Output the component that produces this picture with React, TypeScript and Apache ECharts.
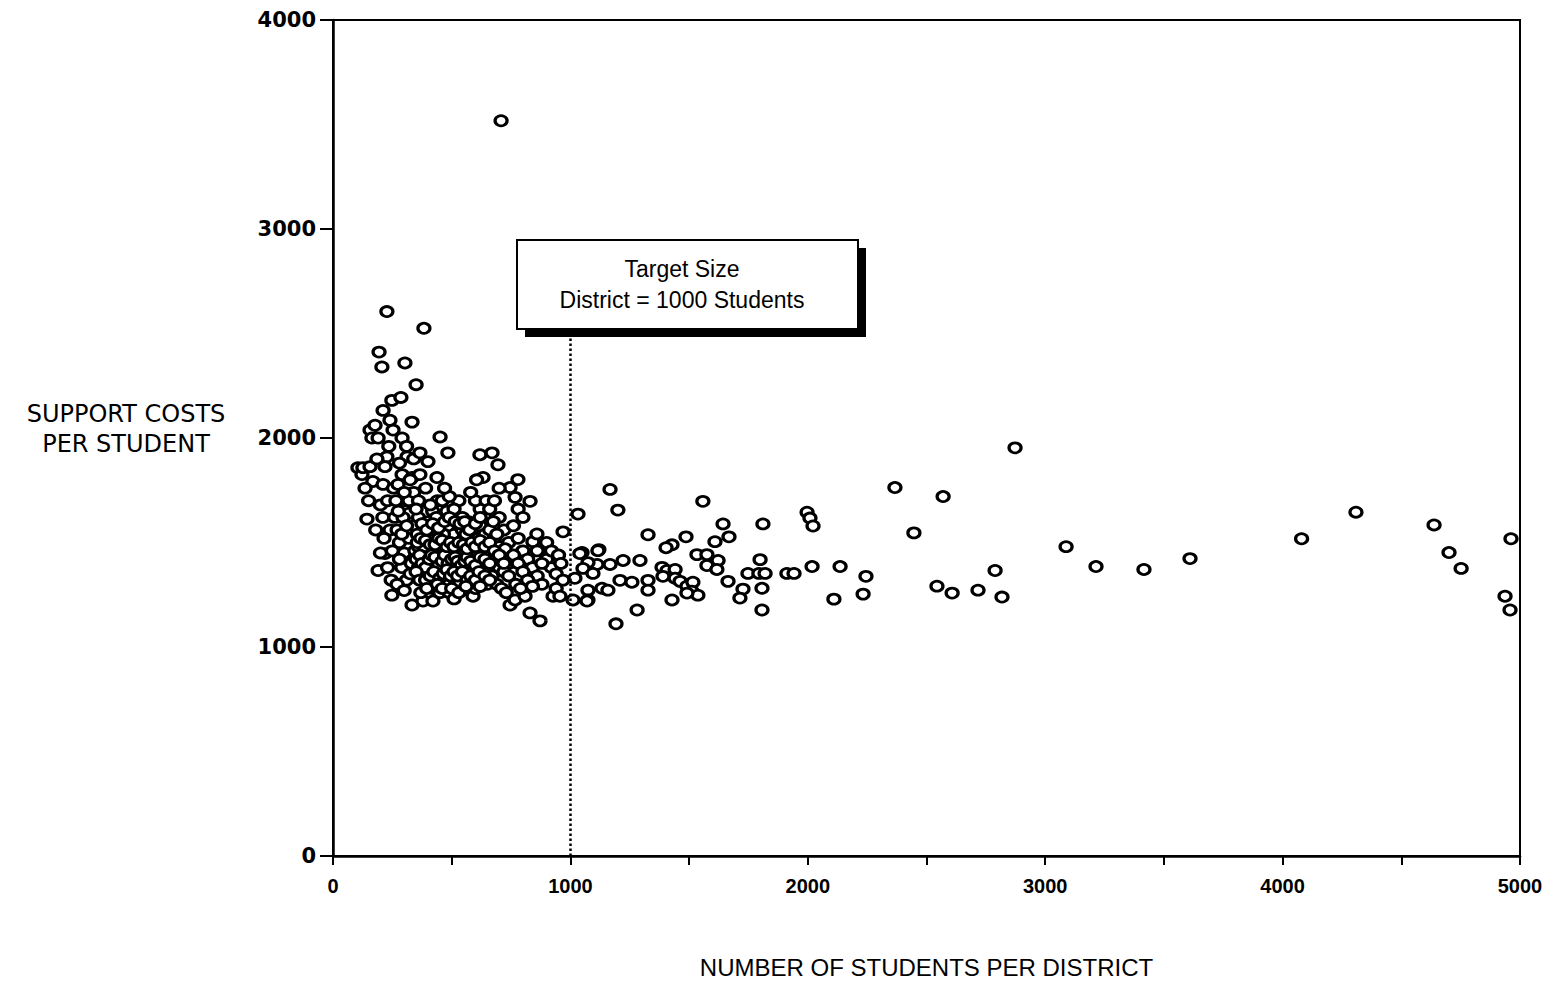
import React, { useEffect, useRef } from "react";
import * as echarts from "echarts";

// Districts under 1000 students: [students, support cost per student]
const smallDistricts: number[][] = [
  [105, 1858], [122, 1825], [126, 1858], [143, 1612], [156, 1863], [156, 2038], [164, 2000], [168, 1792],
  [177, 2061], [150, 1700], [135, 1760],
  [190, 1366], [219, 1447], [211, 1778], [194, 2411], [206, 2340], [211, 2132], [227, 1910], [219, 1863],
  [240, 2085], [248, 2180], [253, 2038], [248, 1248], [200, 1680], [230, 1700], [180, 1560], [210, 1620],
  [240, 1560], [200, 1450], [230, 1380], [245, 1320], [185, 1900], [235, 1960], [215, 1520], [250, 1460],
  [227, 2605], [190, 2000], [260, 1620], [255, 1760],
  [286, 2194], [291, 2000], [291, 1825], [274, 1778], [303, 2359], [312, 1910], [333, 2076], [333, 1811],
  [333, 1201], [350, 2255], [270, 1560], [300, 1700], [320, 1640], [280, 1500], [300, 1450], [320, 1520],
  [340, 1580], [290, 1380], [310, 1320], [330, 1400], [345, 1460], [270, 1300], [300, 1270], [320, 1700],
  [340, 1740], [280, 1880], [310, 1960], [340, 1900], [295, 1620], [325, 1350],
  [366, 1929], [366, 1825], [383, 2525], [400, 1887], [379, 1220], [421, 1220], [438, 1811], [451, 2005],
  [360, 1620], [380, 1560], [400, 1500], [420, 1460], [440, 1420], [360, 1380], [380, 1340], [400, 1300],
  [420, 1280], [440, 1350], [360, 1480], [380, 1420], [400, 1600], [420, 1650], [440, 1700], [360, 1700],
  [390, 1760], [410, 1680], [430, 1560], [450, 1500], [370, 1260], [410, 1380], [430, 1320], [450, 1260],
  [395, 1440], [415, 1540], [435, 1620], [355, 1540], [445, 1460], [425, 1400], [385, 1480], [405, 1560],
  [484, 1929], [460, 1700], [480, 1650], [500, 1600], [520, 1560], [540, 1520], [460, 1580], [480, 1540],
  [500, 1500], [520, 1460], [540, 1420], [470, 1480], [490, 1440], [510, 1400], [530, 1380], [550, 1340],
  [460, 1380], [480, 1340], [500, 1310], [520, 1290], [540, 1270], [470, 1300], [490, 1260], [510, 1230],
  [530, 1700], [510, 1660], [490, 1720], [470, 1760], [545, 1620], [525, 1580], [505, 1540], [485, 1580],
  [465, 1540], [455, 1440], [475, 1420], [495, 1380], [515, 1340], [535, 1310], [555, 1460], [545, 1560],
  [590, 1243], [570, 1600], [590, 1560], [610, 1520], [630, 1480], [650, 1440], [570, 1500], [590, 1460],
  [610, 1420], [630, 1400], [650, 1380], [570, 1400], [590, 1360], [610, 1340], [630, 1320], [650, 1300],
  [580, 1300], [600, 1280], [620, 1660], [600, 1700], [580, 1740], [640, 1620], [560, 1540], [620, 1580],
  [640, 1540], [575, 1440], [595, 1410], [615, 1470], [635, 1360], [560, 1360], [619, 1920], [632, 1811],
  [605, 1800], [645, 1700],
  [670, 1929], [695, 1872], [660, 1560], [680, 1520], [700, 1480], [720, 1440], [740, 1400], [660, 1460],
  [680, 1420], [700, 1380], [720, 1360], [740, 1340], [670, 1340], [690, 1300], [710, 1280], [730, 1260],
  [746, 1201], [660, 1660], [680, 1700], [700, 1620], [720, 1560], [740, 1500], [746, 1763], [700, 1760],
  [675, 1600], [725, 1470], [690, 1540], [655, 1400],
  [767, 1716], [779, 1801], [767, 1225], [809, 1243], [830, 1163], [872, 1125], [830, 1697], [842, 1504],
  [859, 1541], [927, 1243], [760, 1580], [780, 1520], [800, 1460], [820, 1420], [840, 1380], [860, 1340],
  [880, 1300], [900, 1420], [920, 1380], [940, 1350], [760, 1440], [780, 1400], [800, 1360], [820, 1320],
  [840, 1290], [780, 1660], [800, 1620], [860, 1460], [900, 1500], [770, 1300], [790, 1280], [880, 1400],
  [920, 1460], [950, 1440], [940, 1280], [960, 1400], [969, 1551], [969, 1320], [956, 1243], [708, 3518],
  // densest part of the cluster
  [350, 1420], [365, 1440], [375, 1400], [390, 1380], [405, 1420], [415, 1440], [430, 1430], [445, 1390],
  [460, 1410], [470, 1440], [485, 1400], [500, 1420], [515, 1430], [525, 1410], [540, 1390], [555, 1410],
  [565, 1430], [580, 1410], [600, 1390], [620, 1430], [640, 1420], [660, 1400], [350, 1360], [365, 1320],
  [390, 1320], [410, 1340], [425, 1360], [450, 1330], [465, 1350], [480, 1370], [495, 1340], [510, 1360],
  [525, 1340], [545, 1360], [565, 1320], [580, 1340], [600, 1320], [615, 1360], [640, 1340], [355, 1500],
  [370, 1520], [390, 1510], [410, 1490], [430, 1490], [445, 1520], [460, 1510], [480, 1480], [495, 1500],
  [510, 1480], [530, 1500], [550, 1490], [565, 1470], [585, 1500], [600, 1480], [620, 1510], [640, 1480],
  [375, 1590], [395, 1560], [420, 1590], [445, 1570], [470, 1600], [490, 1620], [515, 1600], [535, 1590],
  [555, 1600], [575, 1560], [600, 1590], [620, 1620], [660, 1500], [680, 1460], [700, 1440], [720, 1400],
  [395, 1280], [440, 1300], [460, 1280], [500, 1280], [530, 1260], [560, 1290], [620, 1290], [660, 1320],
  [280, 1420], [290, 1540], [310, 1580], [275, 1650], [300, 1740], [325, 1800], [350, 1660], [265, 1700],
];

// Districts of 1000 to 2300 students
const midDistricts: number[][] = [
  [1032, 1636], [1167, 1754], [1200, 1655], [1558, 1697], [1643, 1589], [1668, 1527], [1609, 1504],
  [1811, 1589], [1997, 1645], [2009, 1617], [2022, 1579], [1327, 1537], [1487, 1527], [1428, 1489],
  [1403, 1475], [1120, 1466], [1049, 1452], [1116, 1461], [1293, 1414], [1222, 1414], [1167, 1395],
  [1112, 1395], [1074, 1404], [1053, 1376], [1095, 1352], [1533, 1442], [1575, 1442], [1622, 1414],
  [1575, 1390], [1617, 1371], [1386, 1381], [1407, 1366], [1441, 1371], [1390, 1338], [1441, 1329],
  [1462, 1314], [1491, 1291], [1516, 1310], [1512, 1267], [1537, 1248], [1491, 1258], [1327, 1319],
  [1327, 1272], [1209, 1319], [1259, 1310], [1133, 1281], [1158, 1272], [1074, 1272], [1074, 1225],
  [1011, 1225], [1428, 1225], [1281, 1177], [1192, 1111], [1664, 1314], [1727, 1277], [1714, 1234],
  [1748, 1352], [1794, 1352], [1820, 1352], [1799, 1418], [1807, 1281], [1807, 1177], [1912, 1352],
  [1942, 1352], [2018, 1385], [2136, 1385], [2245, 1338], [2110, 1229], [2233, 1253], [1019, 1329],
  [1070, 1220], [1040, 1447],
];

// Districts above 2300 students
const largeDistricts: number[][] = [
  [2367, 1763], [2447, 1546], [2570, 1720], [2544, 1291], [2608, 1258], [2717, 1272], [2789, 1366],
  [2818, 1239], [2873, 1953], [3088, 1480], [3214, 1385], [3416, 1371], [3610, 1423], [4080, 1518],
  [4309, 1645], [4638, 1584], [4701, 1452], [4752, 1376], [4962, 1518], [4937, 1243], [4958, 1177],
];

const xTicks = { min: 0, max: 5000, step: 500, labelStep: 1000 };
const yTicks = { min: 0, max: 4000, step: 1000 };
const targetSize = 1000;
const targetLineTop = 2510;

const FONT = "'Liberation Sans', Arial, sans-serif";
const WIDE = "'DejaVu Sans', Verdana, sans-serif";

export default function App() {
  const ref = useRef<HTMLDivElement>(null);

  useEffect(() => {
    if (!ref.current) return;
    const chart = echarts.init(ref.current, undefined, { renderer: "svg" });
    chart.setOption({
      animation: false,
      backgroundColor: "#fff",
      grid: {
        left: 333,
        right: 35,
        top: 20,
        bottom: 118,
        show: true,
        borderColor: "#000",
        borderWidth: 2,
      },
      xAxis: {
        type: "value",
        min: xTicks.min,
        max: xTicks.max,
        interval: xTicks.step,
        axisLine: { show: true, lineStyle: { color: "#000", width: 2.5 } },
        axisTick: { show: true, length: 9, lineStyle: { color: "#000", width: 2 } },
        axisLabel: {
          color: "#000",
          fontFamily: FONT,
          fontSize: 20,
          fontWeight: "bold",
          margin: 20,
          formatter: (v: number) => (v % xTicks.labelStep === 0 ? String(v) : ""),
        },
        splitLine: { show: false },
        name: "NUMBER OF STUDENTS PER DISTRICT",
        nameLocation: "middle",
        nameGap: 99,
        nameTextStyle: { color: "#000", fontFamily: FONT, fontSize: 24 },
      },
      yAxis: {
        type: "value",
        min: yTicks.min,
        max: yTicks.max,
        interval: yTicks.step,
        axisLine: { show: true, lineStyle: { color: "#000", width: 2.5 } },
        axisTick: { show: true, length: 13, lineStyle: { color: "#000", width: 2 } },
        axisLabel: {
          color: "#000",
          fontFamily: WIDE,
          fontSize: 21,
          fontWeight: "bold",
          margin: 17,
          formatter: (v: number) => String(v),
        },
        splitLine: { show: false },
      },
      series: [
        {
          type: "scatter",
          data: [...smallDistricts, ...midDistricts, ...largeDistricts],
          symbol: "circle",
          symbolSize: [12, 10],
          itemStyle: { color: "#fff", borderColor: "#000", borderWidth: 3, opacity: 1 },
          markLine: {
            silent: true,
            symbol: "none",
            label: { show: false },
            lineStyle: { color: "#000", type: "dotted", width: 2.5 },
            data: [[{ coord: [targetSize, 0] }, { coord: [targetSize, targetLineTop] }]],
          },
        },
      ],
      graphic: [
        {
          type: "text",
          x: 126,
          y: 399,
          z: 100,
          style: {
            text: "SUPPORT COSTS\nPER STUDENT",
            fill: "#000",
            font: `24px ${WIDE}`,
            align: "center",
            lineHeight: 30,
          },
        },
        {
          type: "rect",
          z: 100,
          shape: { x: 525, y: 248, width: 341, height: 89 },
          style: { fill: "#000" },
        },
        {
          type: "rect",
          z: 101,
          shape: { x: 517, y: 240, width: 341, height: 89 },
          style: { fill: "#fff", stroke: "#000", lineWidth: 2 },
        },
        {
          type: "text",
          z: 102,
          x: 682,
          y: 257,
          style: {
            text: "Target Size",
            fill: "#000",
            font: `23px ${FONT}`,
            align: "center",
          },
        },
        {
          type: "text",
          z: 102,
          x: 682,
          y: 288,
          style: {
            text: "District = 1000 Students",
            fill: "#000",
            font: `23px ${FONT}`,
            align: "center",
          },
        },
      ],
    });
    return () => chart.dispose();
  }, []);

  return (
    <div
      ref={ref}
      style={{ position: "absolute", left: 0, top: 0, width: 1555, height: 984 }}
    />
  );
}
